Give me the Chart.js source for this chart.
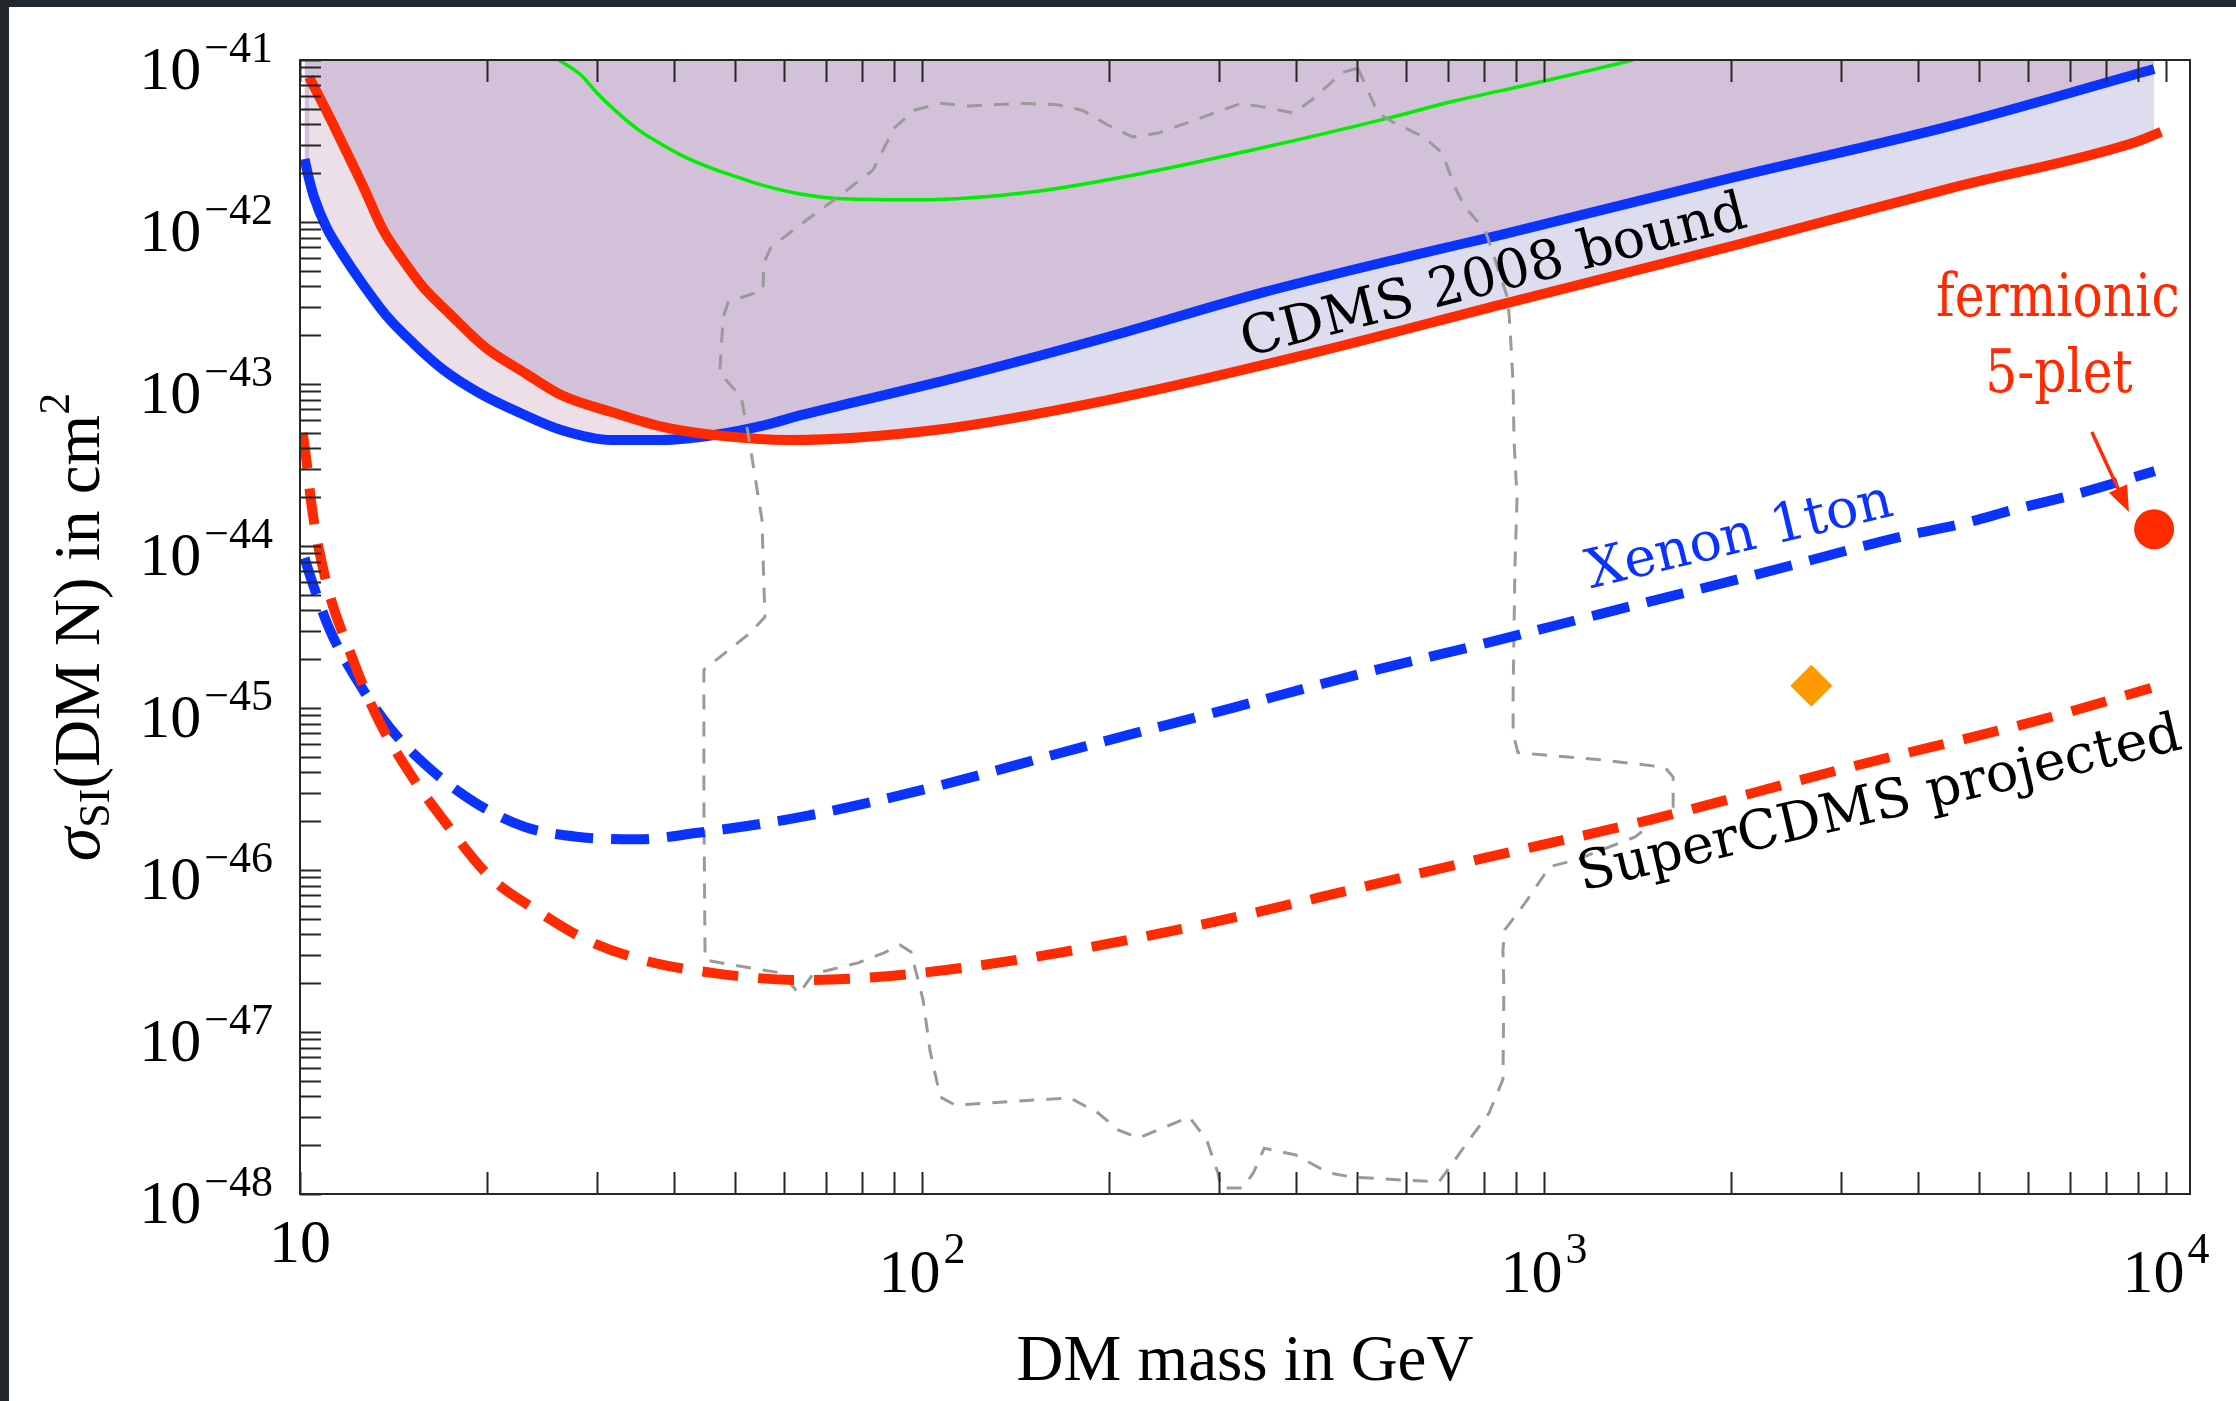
<!DOCTYPE html>
<html>
<head>
<meta charset="utf-8">
<title>Spin-independent DM-nucleon cross section</title>
<script src="https://cdn.jsdelivr.net/npm/chart.js@4.4.0/dist/chart.umd.min.js"></script>
<style>
  html, body { margin: 0; padding: 0; background: #22282b; overflow: hidden; }
  #card { position: absolute; left: 9px; top: 7px; width: 2227px; height: 1394px; background: #fff; }
  canvas { display: block; }
</style>
</head>
<body>
<div id="card"><canvas id="limits" width="2227" height="1394"></canvas></div>
<script>
// masses in GeV, cross sections in cm^2

// CDMS 2008 bound (red and blue solid)
const cdmsRedMass = [10.34, 11.01, 11.9, 12.67, 13.6, 14.64, 15.77, 17.36, 19.83, 23.0, 26.3, 31.7, 38.3, 46.3, 61.6, 105, 199, 424, 849, 2036, 4510, 8950, 9820];
const cdmsRedSigma = [7.85e-42, 4.91e-42, 2.67e-42, 1.62e-42, 8.93e-43, 5.82e-43, 3.97e-43, 2.74e-43, 1.69e-43, 1.17e-43, 8.55e-44, 6.71e-44, 5.43e-44, 4.84e-44, 4.51e-44, 5.2e-44, 7.96e-44, 1.55e-43, 3.08e-43, 7.21e-43, 1.62e-42, 3.12e-42, 3.6e-42];
const cdmsBlueMass = [10.17, 10.32, 10.53, 11.02, 11.67, 12.58, 13.83, 15.2, 17.02, 19.43, 22.6, 26.3, 31.7, 38.3, 46.3, 55.9, 64.1, 78.3, 113, 199, 351, 618, 849, 2000, 4510, 9570];
const cdmsBlueSigma = [2.45e-42, 1.9e-42, 1.43e-42, 9.31e-43, 6.44e-43, 4.2e-43, 2.59e-43, 1.79e-43, 1.22e-43, 8.79e-44, 6.62e-44, 5.2e-44, 4.51e-44, 4.51e-44, 4.84e-44, 5.58e-44, 6.44e-44, 7.75e-44, 1.09e-43, 1.95e-43, 3.65e-43, 6.25e-43, 8.3e-43, 1.87e-42, 3.92e-42, 8.8e-42];

// Xenon 1ton projection (blue dashed)
const xenonMass = [10.17, 10.41, 11.17, 12.35, 13.95, 16.12, 19.05, 23.0, 28.1, 35.2, 43.3, 63.7, 103, 181, 318, 512, 819, 1230, 2153, 3750, 4770, 5740, 7170, 9590];
const xenonSigma = [8.43e-45, 6.34e-45, 3.03e-45, 1.49e-45, 7.53e-46, 4.27e-46, 2.63e-46, 1.84e-46, 1.6e-46, 1.55e-46, 1.69e-46, 2.12e-46, 3.21e-46, 5.74e-46, 1.01e-45, 1.64e-45, 2.55e-45, 3.8e-45, 6.53e-45, 1.14e-44, 1.39e-44, 1.69e-44, 2.09e-44, 2.9e-44];

// SuperCDMS projection (red dashed)
const superMass = [10.1, 10.3, 10.41, 11.0, 12.12, 13.3, 14.9, 17.0, 20.2, 23.96, 28.9, 35.6, 46.3, 63.7, 98.9, 165, 290, 512, 813, 1479, 3116, 6537, 9460];
const superSigma = [4.99e-44, 2.82e-44, 1.92e-44, 6.17e-45, 2.06e-45, 8.8e-46, 4.14e-46, 2.04e-46, 9.06e-47, 5.67e-47, 3.7e-47, 2.78e-47, 2.31e-47, 2.09e-47, 2.31e-47, 3.07e-47, 4.71e-47, 7.86e-47, 1.2e-46, 2.04e-46, 4.33e-46, 8.8e-46, 1.33e-45];

// green solid curve
const greenMass = [26.1, 28.3, 30.03, 32.3, 35.2, 38.3, 42.2, 46.3, 51.0, 55.9, 63.7, 74.6, 98.9, 150, 219, 351, 564, 706, 986, 1230, 1390];
const greenSigma = [1e-41, 8.08e-42, 6.25e-42, 4.78e-42, 3.65e-42, 2.99e-42, 2.45e-42, 2.12e-42, 1.87e-42, 1.67e-42, 1.49e-42, 1.39e-42, 1.37e-42, 1.53e-42, 1.95e-42, 2.86e-42, 4.39e-42, 5.5e-42, 7.31e-42, 8.93e-42, 1e-41];

// closed grey dashed region
const regionMass = [502, 541, 574, 641, 686, 719, 746, 804, 828, 875, 882, 892, 895, 905, 898, 892, 892, 908, 1230, 1565,
  1613, 1613, 1401, 1122, 1022, 932, 865, 859, 862, 859, 816, 752, 706, 678, 593, 493, 450, 399, 355, 341,
  328, 303, 299, 287, 269, 223, 207, 192, 173, 113, 107, 103, 100.4, 96, 92.2, 86.9, 78.9, 66.8, 63.4, 59.6,
  55.1, 44.8, 44.6, 44.6, 52.9, 55.9, 55.3, 54.1, 52.5, 51.2, 47.3, 47.9, 48.8, 55.5, 55.7, 57.2, 63.0, 73.3, 83.4, 90.2,
  97.1, 107, 119, 144, 165, 181, 199, 218, 240, 290, 326, 357, 396, 424, 475, 502];
const regionSigma = [8.9e-42, 4.7e-42, 4.1e-42, 3.35e-42, 2.67e-42, 1.64e-42, 1.24e-42, 8.9e-43, 6.4e-43, 3.35e-43, 2.19e-43, 1.01e-43, 4.5e-44, 1.98e-44, 7.4e-45, 1.24e-45, 7.0e-46, 5.3e-46, 4.8e-46, 4.3e-46,
  3.75e-46, 2.45e-46, 1.6e-46, 1.15e-46, 1.05e-46, 6.25e-47, 4.27e-47, 3.2e-47, 1.9e-47, 5.1e-48, 3.16e-48, 2.07e-48, 1.47e-48, 1.19e-48, 1.22e-48, 1.27e-48, 1.35e-48, 1.74e-48, 1.92e-48, 1.35e-48,
  1.09e-48, 1.09e-48, 1.35e-48, 2.15e-48, 2.99e-48, 2.22e-48, 2.48e-48, 3.16e-48, 3.92e-48, 3.54e-48, 3.97e-48, 7.7e-48, 1.58e-47, 3.12e-47, 3.44e-47, 3.08e-47, 2.67e-47, 2.28e-47, 1.72e-47, 2.31e-47,
  2.42e-47, 2.78e-47, 2.7e-46, 1.72e-45, 2.9e-45, 3.65e-45, 1.45e-44, 2.45e-44, 5.0e-44, 8.3e-44, 1.17e-43, 2.59e-43, 3.2e-43, 3.8e-43, 5.6e-43, 7.0e-43, 9.3e-43, 1.43e-42, 2.09e-42, 3.8e-42,
  4.9e-42, 5.4e-42, 5.2e-42, 5.4e-42, 5.3e-42, 4.9e-42, 3.97e-42, 3.35e-42, 3.54e-42, 4.6e-42, 5.4e-42, 5.1e-42, 4.7e-42, 5.7e-42, 8.4e-42, 8.9e-42];

// single points
const quintupletMass = [9570];
const quintupletSigma = [1.27e-44];
const diamondMass = [2690];
const diamondSigma = [1.37e-45];

// axis decades and their exponents
const xDecades = [10, 100, 1000, 10000];
const xExponents = ['', '2', '3', '4'];
const yDecades = [1e-41, 1e-42, 1e-43, 1e-44, 1e-45, 1e-46, 1e-47, 1e-48];
const yExponents = ['\u221241', '\u221242', '\u221243', '\u221244', '\u221245', '\u221246', '\u221247', '\u221248'];

// 1..9 ticks inside each decade
function decadeTicks(decades) {
  const sorted = decades.slice().sort((a, b) => a - b);
  const out = [];
  for (let i = 0; i < sorted.length - 1; i++) {
    for (let k = 1; k <= 9; k++) out.push(k * sorted[i]);
  }
  out.push(sorted[sorted.length - 1]);
  return out;
}
const xTickValues = decadeTicks(xDecades);
const yTickValues = decadeTicks(yDecades);

const RED = '#ff2a00';
const BLUE = '#0b33ff';
const SERIF = "'Liberation Serif', 'Times New Roman', serif";
const TYPE = "'DejaVu Serif', serif";

// text written along the curves
const notes = [
  { text: 'CDMS 2008 bound', mass: 831, sigma: 4.5e-43, angle: -14.5, color: '#000', size: 54, squeeze: 1 },
  { text: 'Xenon 1ton', mass: 2065, sigma: 1.12e-44, angle: -13.5, color: BLUE, size: 54, squeeze: 1 },
  { text: 'SuperCDMS projected', mass: 3467, sigma: 2.48e-46, angle: -13.3, color: '#000', size: 54, squeeze: 1 },
  { text: 'fermionic', mass: 6700, sigma: 3.3e-43, angle: 0, color: RED, size: 60, squeeze: 0.84 },
  { text: '5-plet', mass: 6730, sigma: 1.12e-43, angle: 0, color: RED, size: 60, squeeze: 0.84 }
];
const arrowFrom = { mass: 7600, sigma: 5.06e-44 };
const arrowTo = { mass: 8720, sigma: 1.62e-44 };

const pts = (ms, ss) => ms.map((m, i) => ({ x: m, y: ss[i] }));

function powerOfTen(ctx, exp, x, base, expBase, align) {
  ctx.font = '62px ' + SERIF;
  const wBase = ctx.measureText('10').width;
  ctx.font = '44px ' + SERIF;
  const wExp = exp ? ctx.measureText(exp).width + 3 : 0;
  const total = wBase + wExp;
  const left = align === 'right' ? x - total : x - total / 2;
  ctx.textAlign = 'left';
  ctx.textBaseline = 'alphabetic';
  ctx.font = '62px ' + SERIF;
  ctx.fillText('10', left, base);
  if (exp) {
    ctx.font = '44px ' + SERIF;
    ctx.fillText(exp, left + wBase + 3, expBase);
  }
}

function yTitle(ctx, cx, cy) {
  const parts = [
    { t: '\u03c3', font: 'italic 68px ' + SERIF, dy: 0 },
    { t: 'SI', font: '44px ' + SERIF, dy: 10 },
    { t: '(DM N) in cm', font: '65px ' + SERIF, dy: 0 },
    { t: '2', font: '44px ' + SERIF, dy: -30 }
  ];
  let total = 0;
  parts.forEach(p => { ctx.font = p.font; p.w = ctx.measureText(p.t).width; total += p.w; });
  ctx.save();
  ctx.translate(cx, cy);
  ctx.rotate(-Math.PI / 2);
  ctx.textAlign = 'left';
  ctx.textBaseline = 'alphabetic';
  let pos = -total / 2;
  parts.forEach(p => { ctx.font = p.font; ctx.fillText(p.t, pos, p.dy); pos += p.w; });
  ctx.restore();
}

const frame = {
  id: 'frame',
  afterDraw(chart) {
    const { ctx, chartArea: a, scales: { x, y } } = chart;
    ctx.save();

    // curve labels and arrow
    notes.forEach(n => {
      ctx.save();
      ctx.translate(x.getPixelForValue(n.mass), y.getPixelForValue(n.sigma));
      ctx.rotate(n.angle * Math.PI / 180);
      ctx.scale(n.squeeze, 1);
      ctx.font = n.size + 'px ' + TYPE;
      ctx.fillStyle = n.color;
      ctx.textAlign = 'center';
      ctx.textBaseline = 'middle';
      ctx.fillText(n.text, 0, 0);
      ctx.restore();
    });
    const x0 = x.getPixelForValue(arrowFrom.mass), y0 = y.getPixelForValue(arrowFrom.sigma);
    const x1 = x.getPixelForValue(arrowTo.mass), y1 = y.getPixelForValue(arrowTo.sigma);
    const ang = Math.atan2(y1 - y0, x1 - x0);
    ctx.strokeStyle = RED;
    ctx.fillStyle = RED;
    ctx.lineWidth = 3.5;
    ctx.beginPath();
    ctx.moveTo(x0, y0);
    ctx.lineTo(x1 - 20 * Math.cos(ang), y1 - 20 * Math.sin(ang));
    ctx.stroke();
    ctx.beginPath();
    ctx.moveTo(x1, y1);
    ctx.lineTo(x1 - 26 * Math.cos(ang) + 10 * Math.sin(ang), y1 - 26 * Math.sin(ang) - 10 * Math.cos(ang));
    ctx.lineTo(x1 - 26 * Math.cos(ang) - 10 * Math.sin(ang), y1 - 26 * Math.sin(ang) + 10 * Math.cos(ang));
    ctx.closePath();
    ctx.fill();

    // frame with inward ticks
    ctx.strokeStyle = '#262626';
    ctx.lineWidth = 2;
    ctx.beginPath();
    xTickValues.forEach(v => {
      const px = Math.round(x.getPixelForValue(v)) + 0.5;
      ctx.moveTo(px, a.bottom); ctx.lineTo(px, a.bottom - 22);
      ctx.moveTo(px, a.top); ctx.lineTo(px, a.top + 22);
    });
    yTickValues.forEach(v => {
      const py = Math.round(y.getPixelForValue(v)) + 0.5;
      ctx.moveTo(a.left, py); ctx.lineTo(a.left + 21, py);
    });
    ctx.stroke();
    ctx.strokeRect(a.left, a.top, a.right - a.left, a.bottom - a.top);

    // tick labels
    ctx.fillStyle = '#000';
    xDecades.forEach((v, i) => {
      const px = x.getPixelForValue(v);
      if (xExponents[i]) powerOfTen(ctx, xExponents[i], px, a.bottom + 98, a.bottom + 69, 'center');
      else powerOfTen(ctx, '', px, a.bottom + 68, 0, 'center');
    });
    yDecades.forEach((v, i) => {
      const py = y.getPixelForValue(v);
      powerOfTen(ctx, yExponents[i], a.left - 27, py + 29, py + 2, 'right');
    });

    // axis titles
    ctx.font = '65px ' + SERIF;
    ctx.textAlign = 'center';
    ctx.textBaseline = 'alphabetic';
    ctx.fillText('DM mass in GeV', (a.left + a.right) / 2, a.bottom + 186);
    yTitle(ctx, a.left - 201, (a.top + a.bottom) / 2);
    ctx.restore();
  }
};

const curve = { pointRadius: 0, cubicInterpolationMode: 'monotone', borderJoinStyle: 'round' };

new Chart(document.getElementById('limits'), {
  type: 'line',
  data: {
    datasets: [
      // shaded exclusion: everything above the blue bound
      Object.assign({ data: pts(cdmsBlueMass, cdmsBlueSigma), borderWidth: 0, fill: 'end',
        backgroundColor: '#d3c1d9', order: 20 }, curve),
      // band between the two bounds
      Object.assign({ data: pts(cdmsRedMass, cdmsRedSigma), borderWidth: 0,
        fill: { target: 0, above: '#eddfe8', below: '#ddddef' }, order: 19 }, curve),
      Object.assign({ data: pts(greenMass, greenSigma), borderColor: '#00ee00', borderWidth: 3.5, fill: false, order: 9 }, curve),
      Object.assign({ data: pts(cdmsBlueMass, cdmsBlueSigma), borderColor: BLUE, borderWidth: 10, fill: false, order: 8 }, curve),
      Object.assign({ data: pts(cdmsRedMass, cdmsRedSigma), borderColor: RED, borderWidth: 10, fill: false, order: 7 }, curve),
      { data: pts(regionMass, regionSigma), borderColor: '#9a9a9a', borderWidth: 3, borderDash: [15, 12],
        pointRadius: 0, tension: 0, fill: false, order: 6 },
      Object.assign({ data: pts(xenonMass, xenonSigma), borderColor: BLUE, borderWidth: 10, borderDash: [38, 18], fill: false, order: 5 }, curve),
      Object.assign({ data: pts(superMass, superSigma), borderColor: RED, borderWidth: 10, borderDash: [36, 20], fill: false, order: 4 }, curve),
      { data: pts(diamondMass, diamondSigma), showLine: false, pointStyle: 'rectRot', pointRadius: 21,
        pointBackgroundColor: '#ff9900', pointBorderWidth: 0, order: 2 },
      { data: pts(quintupletMass, quintupletSigma), showLine: false, pointStyle: 'circle', pointRadius: 20,
        pointBackgroundColor: RED, pointBorderWidth: 0, order: 1 }
    ]
  },
  options: {
    responsive: false,
    animation: false,
    devicePixelRatio: 1,
    layout: { padding: { left: 291, top: 53, right: 46, bottom: 207 } },
    plugins: { legend: { display: false }, tooltip: { enabled: false }, title: { display: false } },
    scales: {
      x: { type: 'logarithmic', min: 10, max: 10930, display: false },
      y: { type: 'logarithmic', min: 1e-48, max: 1e-41, display: false }
    }
  },
  plugins: [frame]
});
</script>
</body>
</html>
